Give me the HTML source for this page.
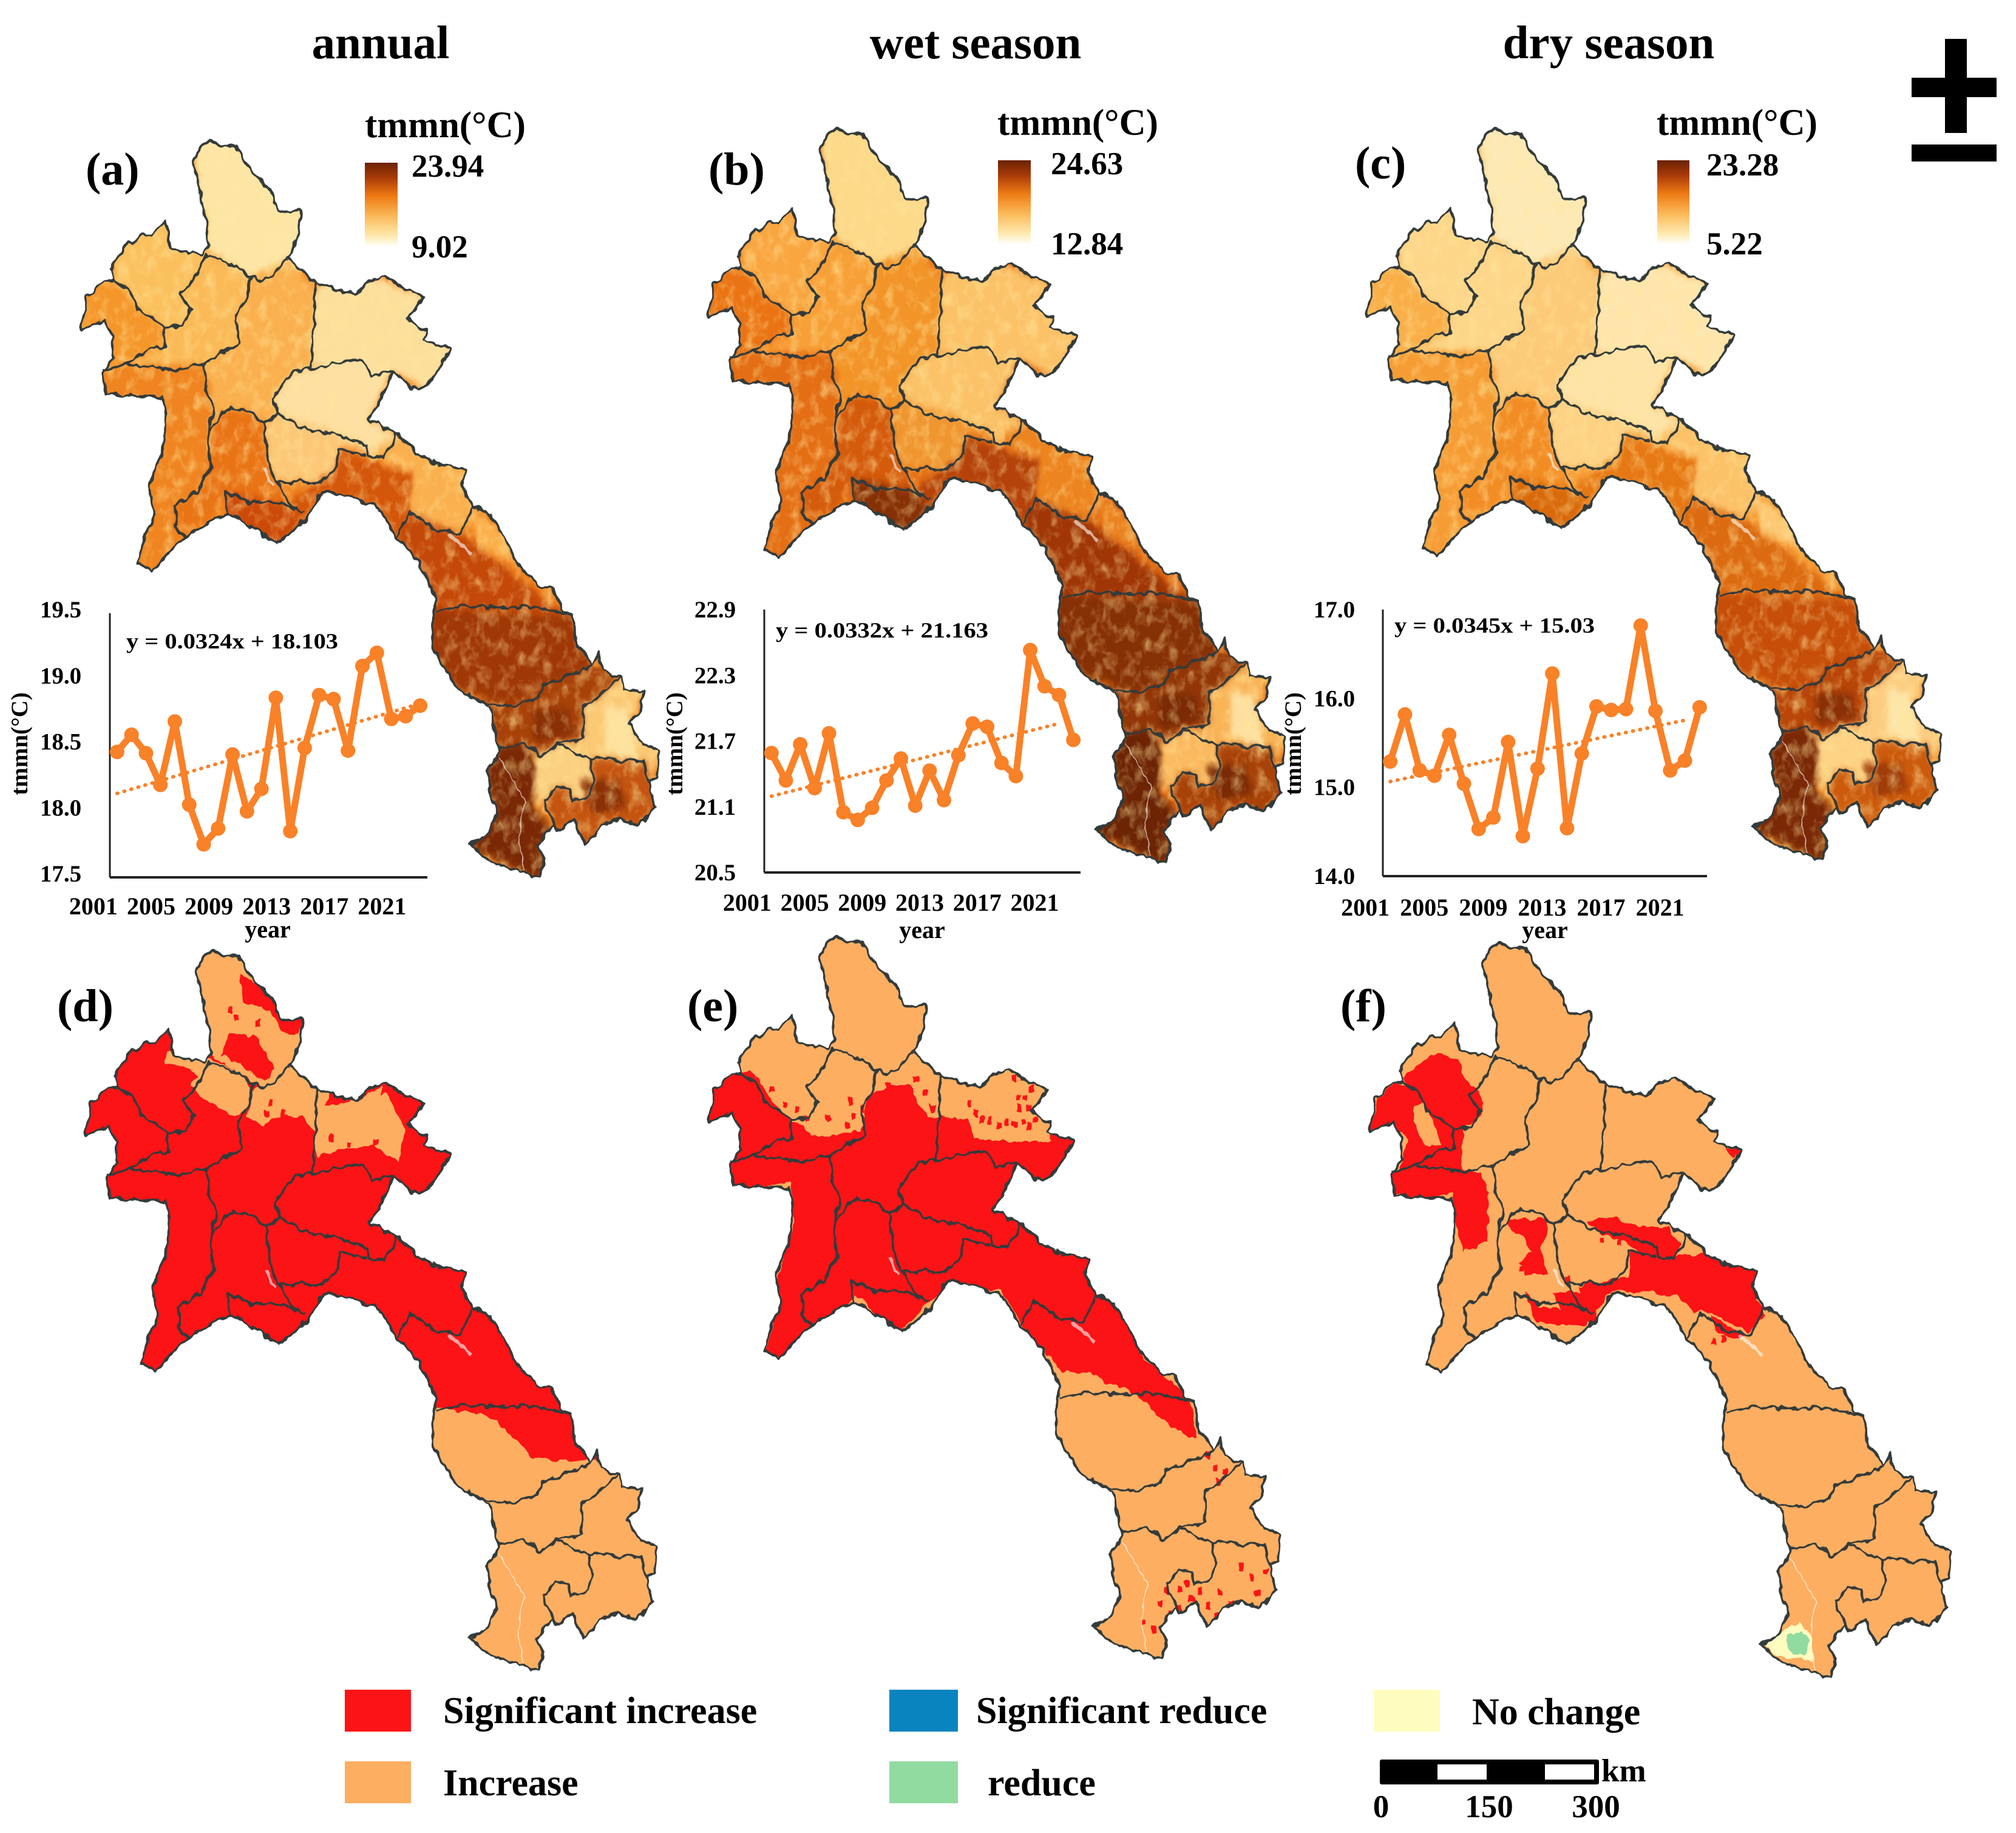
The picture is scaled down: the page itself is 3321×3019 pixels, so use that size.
<!DOCTYPE html>
<html lang="en"><head><meta charset="utf-8"><title>tmmn trends in Laos</title>
<style>
html,body{margin:0;padding:0;background:#fff}
svg{display:block}
text{font-family:"Liberation Serif",serif;font-weight:bold;fill:#000}
</style></head>
<body>
<svg id="fig" xmlns="http://www.w3.org/2000/svg" width="3321" height="3019" viewBox="0 0 3321 3019">
<defs>
<linearGradient id="cbar" x1="0" y1="0" x2="0" y2="1">
<stop offset="0" stop-color="#6b2205"/><stop offset=".18" stop-color="#a83a08"/><stop offset=".4" stop-color="#ee7a12"/><stop offset=".65" stop-color="#fbbb5c"/><stop offset=".88" stop-color="#fee9b0"/><stop offset="1" stop-color="#fffef4"/>
</linearGradient>
<filter id="heat" x="-5%" y="-5%" width="110%" height="110%" color-interpolation-filters="sRGB">
<feGaussianBlur in="SourceGraphic" stdDeviation="6" result="b"/>
<feTurbulence type="fractalNoise" baseFrequency="0.04" numOctaves="3" seed="4" result="n"/>
<feColorMatrix in="n" type="matrix" values="0 0 0 0 1  0 0 0 0 .9  0 0 0 0 .6  1.3 0 0 0 -0.6" result="w"/>
<feMerge><feMergeNode in="b"/><feMergeNode in="w"/></feMerge>
</filter>
<filter id="wobble" x="-5%" y="-5%" width="110%" height="110%" color-interpolation-filters="sRGB">
<feTurbulence type="fractalNoise" baseFrequency="0.05" numOctaves="2" seed="9" result="t"/>
<feDisplacementMap in="SourceGraphic" in2="t" scale="14" xChannelSelector="R" yChannelSelector="G"/>
</filter>
<clipPath id="laos-clip" clipPathUnits="userSpaceOnUse"><polygon id="laos-clip-shape" points=""/></clipPath>
</defs>

<text x="627" y="96" font-size="77" text-anchor="middle">annual</text>
<text x="1607" y="96" font-size="77" text-anchor="middle">wet season</text>
<text x="2650" y="96" font-size="77" text-anchor="middle">dry season</text>

<g id="maps"></g>
<g id="charts"></g>

<text x="141" y="304" font-size="76">(a)</text>
<text x="1167" y="304" font-size="76">(b)</text>
<text x="2232" y="294" font-size="76">(c)</text>
<text x="94" y="1682" font-size="76">(d)</text>
<text x="1132" y="1682" font-size="76">(e)</text>
<text x="2208" y="1682" font-size="76">(f)</text>

<g>
<text x="601" y="226" font-size="61">tmmn(°C)</text>
<rect x="601" y="268" width="54" height="137" fill="url(#cbar)"/>
<text x="678" y="291" font-size="53">23.94</text>
<text x="678" y="424" font-size="53">9.02</text>
</g>
<g>
<text x="1651" y="222" font-size="61" transform="translate(-8,0)">tmmn(°C)</text>
<rect x="1652" y="264" width="54" height="137" fill="url(#cbar)" transform="translate(-8,0)"/>
<text x="1731" y="287" font-size="53">24.63</text>
<text x="1731" y="419" font-size="53">12.84</text>
</g>
<g>
<text x="2729" y="222" font-size="61">tmmn(°C)</text>
<rect x="2744" y="264" width="53" height="137" fill="url(#cbar)" transform="translate(-14,0)"/>
<text x="2811" y="289" font-size="53">23.28</text>
<text x="2811" y="419" font-size="53">5.22</text>
</g>

<g fill="#000">
<rect x="3204" y="64" width="36" height="155"/>
<rect x="3149" y="128" width="140" height="32"/>
<rect x="3149" y="238" width="140" height="28"/>
</g>

<g>
<rect x="568" y="2783" width="109" height="69" fill="#fb1316"/>
<text x="730" y="2838" font-size="62">Significant increase</text>
<rect x="568" y="2901" width="109" height="69" fill="#fdae61"/>
<text x="730" y="2957" font-size="62">Increase</text>
<rect x="1471" y="2783" width="113" height="69" fill="#0a84bf" transform="translate(-6,0)"/>
<text x="1608" y="2838" font-size="62">Significant reduce</text>
<rect x="1471" y="2901" width="113" height="69" fill="#92dba0" transform="translate(-6,0)"/>
<text x="1627" y="2957" font-size="62">reduce</text>
<rect x="2263" y="2783" width="109" height="69" fill="#fffcbf"/>
<text x="2425" y="2840" font-size="62">No change</text>
</g>

<g>
<rect x="2273" y="2898" width="361" height="41" rx="3" fill="#000"/>
<rect x="2368" y="2906" width="81" height="25" fill="#fff"/>
<rect x="2545" y="2906" width="81" height="25" fill="#fff"/>
<text x="2638" y="2934" font-size="53">km</text>
<text x="2275" y="2993" font-size="53" text-anchor="middle">0</text>
<text x="2453" y="2993" font-size="53" text-anchor="middle">150</text>
<text x="2629" y="2993" font-size="53" text-anchor="middle">300</text>
</g>
</svg>

<script>
/* ---------- chart data ---------- */
const yearLabels = ["2001","2005","2009","2013","2017","2021"];
const annualValues = [18.45,18.58,18.44,18.2,18.68,18.05,17.75,17.87,18.43,18.0,18.17,18.86,17.85,18.48,18.88,18.85,18.46,19.1,19.2,18.7,18.72,18.8];
const wetValues = [21.59,21.34,21.67,21.27,21.77,21.05,20.98,21.09,21.34,21.54,21.11,21.43,21.16,21.57,21.86,21.83,21.5,21.38,22.53,22.2,22.12,21.71];
const dryValues = [15.29,15.82,15.19,15.13,15.59,15.04,14.53,14.66,15.51,14.45,15.21,16.28,14.54,15.38,15.91,15.87,15.88,16.82,15.86,15.19,15.3,15.9];
const annualTicks = [19.5,19.0,18.5,18.0,17.5];
const wetTicks = [22.9,22.3,21.7,21.1,20.5];
const dryTicks = [17.0,16.0,15.0,14.0];
const annualTrend = [0.0324,18.103];
const wetTrend = [0.0332,21.163];
const dryTrend = [0.0345,15.03];

const NS = "http://www.w3.org/2000/svg";
function mk(tag, attrs, parent){
  const el = document.createElementNS(NS, tag);
  for (const k in attrs) el.setAttribute(k, attrs[k]);
  parent.appendChild(el);
  return el;
}
function pts(a){ return a.map(p => p[0] + "," + p[1]).join(" "); }

/* ---------- trend charts ---------- */
const chartSpecs = [
 {id:"annual", values:annualValues, ticks:annualTicks, trend:annualTrend, dec:1, x0:181, x1:704, top:1010, bottom:1445, tickX:100, tickOff:7, titleX:32, labelOff:-39, labelY:1506, yearX:441, yearY:1544, eqX:208, eqY:1068, eqW:349, trendEnd:22, eq:"y = 0.0324x + 18.103"},
 {id:"wet", values:wetValues, ticks:wetTicks, trend:wetTrend, dec:1, x0:1259, x1:1780, top:1004, bottom:1437, tickX:1178, tickOff:13, titleX:1111, labelOff:-40, labelY:1500, yearX:1519, yearY:1545, eqX:1278, eqY:1050, eqW:350, trendEnd:21, eq:"y = 0.0332x + 21.163"},
 {id:"dry", values:dryValues, ticks:dryTicks, trend:dryTrend, dec:1, x0:2278, x1:2812, top:1004, bottom:1443, tickX:2198, tickOff:13, titleX:2130, labelOff:-41, labelY:1508, yearX:2545, yearY:1545, eqX:2297, eqY:1042, eqW:330, trendEnd:21, eq:"y = 0.0345x + 15.03"}
];
const chartsRoot = document.getElementById("charts");
const LINE = "#f98128";
chartSpecs.forEach(function(c){
  const g = mk("g", {}, chartsRoot);
  
  
  const yMax = Math.max.apply(null, c.ticks), yMin = Math.min.apply(null, c.ticks);
  const n = c.values.length, band = (c.x1 - c.x0) / n;
  const xs = i => c.x0 + (i + 0.5) * band;
  const ys = v => c.bottom - (v - yMin) / (yMax - yMin) * (c.bottom - c.top);

  const yAxis = mk("line", {x1:c.x0, x2:c.x0, y1:c.top, y2:c.bottom, stroke:"#222", "stroke-width":3}, g);
  
  
  const xAxis = mk("line", {x1:c.x0, x2:c.x1, y1:c.bottom, y2:c.bottom, stroke:"#222", "stroke-width":4}, g);
  
  

  c.ticks.forEach(function(t){
    const tl = mk("text", {x:c.tickX, y:ys(t) + c.tickOff, "font-size":39, "text-anchor":"middle"}, g);
    tl.textContent = t.toFixed(c.dec);
    
    
  });
  yearLabels.forEach(function(lbl, k){
    const tl = mk("text", {x:xs(k * 4) + c.labelOff, y:c.labelY, "font-size":40, "text-anchor":"middle"}, g);
    tl.textContent = lbl;
    
    
  });
  const yr = mk("text", {x:c.yearX, y:c.yearY, "font-size":40, "text-anchor":"middle"}, g);
  yr.textContent = "year";
  
  
  const yt = mk("text", {x:0, y:0, "font-size":39, "text-anchor":"middle", transform:"translate(" + (c.titleX + 13) + ",1225) rotate(-90)"}, g);
  yt.textContent = "tmmn(°C)";
  
  

  const eq = mk("text", {x:c.eqX, y:c.eqY, "font-size":36, textLength:c.eqW, lengthAdjust:"spacingAndGlyphs"}, g);
  eq.textContent = c.eq;
  
  

  const tr = mk("line", {x1:xs(0), y1:ys(c.trend[0] * 1 + c.trend[1]), x2:xs(c.trendEnd - 1), y2:ys(c.trend[0] * c.trendEnd + c.trend[1]), stroke:LINE, "stroke-width":6, "stroke-dasharray":"1 11", "stroke-linecap":"round"}, g);
  
  

  const line = mk("polyline", {points:pts(c.values.map((v,i) => [xs(i), ys(v)])), fill:"none", stroke:LINE, "stroke-width":11, "stroke-linejoin":"round"}, g);
  
  
  c.values.forEach(function(v,i){
    const d = mk("circle", {cx:xs(i), cy:ys(v), r:12, fill:LINE}, g);
    
    
  });
});

/* ---------- map geometry (shared panel coordinates) ---------- */
const outline = [[465,240],[485,233],[510,240],[545,240],[560,262],[590,290],[625,315],[640,345],[665,350],[695,345],[690,380],[665,425],[680,435],[715,460],[760,475],[820,485],[850,465],[885,452],[920,470],[975,490],[955,510],[940,525],[985,545],[975,560],[1040,575],[1015,605],[985,635],[950,640],[905,610],[895,630],[880,655],[850,690],[915,715],[960,745],[1010,765],[1075,772],[1065,800],[1090,835],[1130,845],[1165,890],[1190,925],[1240,965],[1275,970],[1295,1005],[1320,1015],[1330,1060],[1365,1095],[1380,1075],[1390,1105],[1430,1115],[1440,1135],[1485,1140],[1475,1170],[1450,1190],[1480,1225],[1520,1235],[1515,1280],[1495,1290],[1510,1330],[1470,1360],[1430,1350],[1390,1360],[1350,1390],[1320,1350],[1285,1370],[1275,1355],[1240,1395],[1255,1415],[1245,1445],[1200,1435],[1130,1420],[1085,1390],[1120,1375],[1145,1340],[1130,1300],[1125,1270],[1150,1235],[1130,1165],[1105,1155],[1050,1130],[1020,1095],[995,1060],[1000,1010],[1005,985],[965,925],[915,885],[870,835],[800,815],[745,810],[700,860],[640,895],[610,880],[525,845],[480,860],[425,885],[350,940],[320,925],[335,880],[355,850],[345,800],[375,740],[385,690],[375,655],[305,650],[245,650],[235,615],[260,590],[260,555],[240,525],[185,545],[200,490],[240,465],[265,460],[255,445],[295,400],[350,385],[380,365],[395,410],[470,420],[480,405],[475,360],[445,265]];
const provinceLines = [
 [[265,460],[300,480],[320,510],[380,540],[420,535],[440,510],[415,485],[450,455],[480,420]],
 [[480,420],[530,435],[580,455],[570,490],[545,520],[550,565],[490,590],[470,600],[400,610],[290,600],[235,610]],
 [[380,540],[380,570],[340,575],[290,600]],
 [[580,455],[605,465],[665,428]],
 [[470,600],[475,640],[495,670],[480,710],[485,770],[455,810],[405,830],[405,870],[430,885]],
 [[480,710],[530,670],[585,680],[610,700],[640,680],[630,655],[680,610],[745,605],[820,590],[845,600],[855,620],[905,610]],
 [[727,466],[725,540],[715,607]],
 [[640,680],[700,705],[780,715],[845,735],[850,750],[885,755],[915,715]],
 [[610,700],[620,770],[640,795],[660,820],[680,840]],
 [[640,795],[740,795],[775,770],[780,740],[845,750]],
 [[525,845],[520,810],[570,825],[660,830],[700,845]],
 [[915,885],[945,845],[1000,870],[1060,880],[1090,835]],
 [[1005,1010],[1060,998],[1150,1000],[1240,1000],[1320,1015]],
 [[1105,1155],[1170,1165],[1240,1150],[1250,1130],[1340,1105],[1365,1095]],
 [[1430,1115],[1345,1165],[1345,1215],[1285,1225],[1360,1250],[1485,1255],[1495,1290]],
 [[1150,1232],[1210,1225],[1250,1245],[1285,1225]],
 [[1285,1370],[1255,1320],[1285,1295],[1315,1300],[1320,1320],[1360,1310],[1370,1280],[1360,1250]]
];
const heatZones = [
 [[445,225],[700,225],[700,440],[600,465],[470,410]],
 [[255,370],[480,350],[480,420],[440,510],[420,535],[380,540],[320,510],[265,460]],
 [[175,460],[265,460],[320,510],[380,545],[380,570],[290,600],[235,610],[175,550]],
 [[480,420],[580,455],[545,520],[550,565],[470,600],[290,600],[380,570],[380,540],[420,535],[440,510],[415,485]],
 [[580,455],[665,428],[730,480],[715,600],[630,655],[640,680],[610,700],[585,680],[530,670],[480,710],[495,670],[470,600],[550,565],[545,520]],
 [[730,470],[850,450],[985,490],[1050,575],[985,645],[905,610],[845,600],[715,600]],
 [[630,655],[680,610],[820,590],[905,610],[850,690],[915,715],[885,755],[850,750],[780,715],[640,680]],
 [[230,610],[400,610],[470,600],[495,670],[480,710],[485,770],[455,810],[405,830],[405,870],[430,885],[350,950],[310,930],[375,740],[385,690],[375,660],[235,660]],
 [[480,710],[530,670],[585,680],[610,700],[620,770],[660,830],[520,810],[480,860],[405,870],[405,830],[455,810],[485,770]],
 [[520,810],[660,830],[710,860],[640,905],[525,850]],
 [[610,700],[640,680],[780,715],[845,735],[780,740],[775,770],[740,795],[640,795],[620,770]],
 [[660,830],[775,770],[780,740],[950,780],[945,845],[915,885],[870,835],[745,810],[700,860]],
 [[850,750],[915,715],[1075,765],[1090,835],[1060,880],[945,845],[950,780]],
 [[915,885],[945,845],[1060,880],[1100,900],[1300,1010],[1005,1005]],
 [[1085,835],[1165,880],[1195,930],[1100,900]],
 [[995,1005],[1325,1012],[1365,1095],[1250,1130],[1170,1165],[1050,1135],[985,1060]],
 [[1105,1155],[1170,1165],[1250,1130],[1365,1095],[1430,1115],[1345,1165],[1345,1215],[1285,1225],[1250,1245],[1210,1225],[1150,1230]],
 [[1430,1115],[1490,1135],[1450,1190],[1525,1235],[1495,1290],[1360,1250],[1285,1225],[1345,1215],[1345,1165]],
 [[1150,1230],[1210,1225],[1235,1250],[1230,1330],[1285,1375],[1240,1395],[1255,1420],[1245,1450],[1080,1395],[1145,1340],[1120,1270]],
 [[1230,1245],[1285,1225],[1360,1250],[1370,1280],[1360,1310],[1320,1320],[1315,1300],[1285,1295],[1255,1320],[1235,1330]],
 [[1255,1320],[1285,1295],[1315,1300],[1320,1320],[1360,1310],[1370,1280],[1360,1250],[1490,1255],[1515,1330],[1470,1365],[1390,1365],[1350,1395],[1320,1350],[1285,1370]],
 [[1335,1285],[1425,1285],[1445,1330],[1370,1340]],
 [[1225,1170],[1310,1165],[1325,1210],[1230,1222]],
 [[1395,1160],[1450,1170],[1475,1262],[1395,1232]]
];
const whiteMarks = [
 [[1150,1245],[1185,1290],[1210,1320],[1195,1380],[1210,1435]],
 [[605,770],[630,800]],
 [[1035,880],[1090,915]]
];
const panelA = ["#fde6a6","#fbc05e","#f5962a","#fbba58","#fab04e","#fddf9c","#fde0a2","#ef8420","#e97416","#cc4a08","#fcc878","#d4560a","#fab04e","#c44808","#fbb04c","#a03806","#a84208","#fbc874","#7a2805","#fbd080","#c45410","#8a3006","#8a3006","#fde2a0"];
const panelB = ["#fdd98a","#f9a540","#ea7414","#f8a038","#f29428","#fbc268","#fbc268","#e46e14","#d45a0c","#863005","#f09630","#b4420a","#ec8420","#a03606","#ea8422","#863005","#923608","#f9b458","#6c2405","#fbb95f","#a84208","#7a2a05","#7a2a05","#fde0a0"];
const panelC = ["#fde9b6","#fdd68a","#f9ae48","#fdd68a","#fcca78","#fee6ae","#fee4a8","#f69c34","#f28c24","#d96a0c","#fdd284","#e67814","#fcc268","#dc6a10","#fcc874","#c64e08","#b84608","#fccc80","#7a2805","#fdd284","#cc5a0c","#a03c08","#8a3006","#fde6a8"];

const RED = "#fb1316", ORANGE = "#fdae61";
/* categorical layers, traced in each reference crop's own frame */
const dRed = [
 {f:RED, p:[[150,0],[1568,0],[1568,905],[1370,905],[1320,910],[1230,905],[1200,880],[1130,830],[990,815],[150,800]]},
 {f:ORANGE, p:[[440,0],[720,0],[720,240],[600,245],[480,190]]},
 {f:RED, p:[[555,50],[600,70],[640,100],[700,125],[690,155],[650,150],[620,110],[560,100]]},
 {f:RED, p:[[530,150],[590,160],[635,215],[610,240],[560,210],[510,190]]},
 {f:ORANGE, p:[[490,200],[560,225],[590,260],[570,290],[540,300],[470,270],[440,245]]},
 {f:ORANGE, p:[[590,250],[680,210],[760,260],[730,330],[700,300],[640,300],[600,315],[570,300]]},
 {f:ORANGE, p:[[745,280],[830,270],[880,245],[935,320],[920,380],[860,350],[730,370],[725,340]]},
 {f:ORANGE, p:[[385,185],[420,195],[490,200],[465,240],[440,215],[380,205]]}
];
const eRed = [
 {f:RED, p:[[60,390],[100,300],[170,290],[210,330],[240,370],[270,395],[300,400],[320,425],[440,415],[460,340],[510,320],[560,320],[600,385],[640,385],[700,390],[720,430],[820,435],[905,435],[900,410],[975,435],[900,530],[820,500],[770,560],[830,600],[1010,680],[1010,740],[1060,760],[1130,880],[1240,960],[1260,1040],[1240,1040],[1180,1010],[1120,960],[1090,945],[1040,930],[1000,910],[930,905],[850,830],[780,740],[650,730],[530,830],[430,750],[330,820],[250,880],[210,870],[230,800],[240,710],[280,600],[270,520],[130,530],[120,480]]}
];
const fRed = [
 {f:RED, p:[[80,400],[100,335],[140,305],[170,305],[160,290],[205,255],[240,240],[285,255],[310,300],[345,330],[340,370],[300,395],[295,480],[345,490],[360,530],[355,630],[300,650],[280,570],[275,530],[200,540],[140,530],[130,485],[150,480],[170,420],[130,385]]},
 {f:ORANGE, p:[[185,350],[205,345],[235,395],[250,430],[210,430],[180,380]]},
 {f:RED, p:[[400,585],[500,580],[495,610],[480,640],[500,695],[445,695],[430,670],[460,650],[445,620],[415,605]]},
 {f:RED, p:[[510,730],[580,730],[610,760],[610,800],[560,790],[530,770]]},
 {f:RED, p:[[440,730],[480,760],[600,780],[590,800],[520,800],[470,790]]},
 {f:RED, p:[[590,585],[640,575],[700,595],[780,600],[810,630],[800,660],[730,660],[680,630],[620,610]]},
 {f:RED, p:[[570,720],[690,700],[690,650],[800,660],[870,650],[990,690],[990,750],[1010,775],[970,815],[880,775],[840,770],[800,740],[770,740],[730,730],[650,730],[610,770]]},
 {f:RED, p:[[880,780],[960,820],[940,830],[890,810]]},
 {f:RED, p:[[915,435],[955,440],[935,460]]},
 {f:"#fffcbf", p:[[1000,1448],[1090,1410],[1120,1440],[1120,1490],[1075,1480],[1040,1480]]},
 {f:"#92dba0", p:[[1060,1440],[1090,1425],[1115,1450],[1100,1475],[1065,1470]]}
];
const dPixels = [[540,120],[525,105],[590,130],[520,180],[610,290],[620,270],[700,320],[760,330],[800,345],[860,340],[880,250],[470,280],[500,290],[650,290]];
const ePixels = [[820,340],[835,340],[845,360],[820,360],[700,350],[715,370],[730,385],[750,385],[770,395],[790,390],[810,395],[830,390],[845,400],[860,385],[810,300],[830,295],[850,320],[410,345],[440,360],[420,380],[400,395],[355,380],[220,320],[250,350],[280,365],[305,380],[570,300],[590,330],[610,360],[500,315],[1210,1345],[1230,1335],[1240,1365],[1260,1350],[1280,1380],[1310,1350],[1360,1300],[1385,1320],[1420,1310],[1400,1355],[1180,1350],[1165,1375],[1190,1395],[1210,1385],[1125,1415],[1150,1430],[1300,1100],[1320,1105],[1305,1125],[1280,1070],[1335,1380],[1300,1400]];
const fPixels = [[430,680],[520,745],[330,340],[345,520],[300,510],[320,500],[840,690],[820,720],[830,750],[620,620],[660,625],[905,820],[885,825],[470,650],[540,700]];

document.getElementById("laos-clip-shape").setAttribute("points", pts(outline));

const mapsRoot = document.getElementById("maps");
const panels = [
 {id:"a", x:132, y:233, w:954, h:1212, colors:panelA},
 {id:"b", x:1165, y:213, w:952, h:1208, colors:panelB},
 {id:"c", x:2250, y:213, w:948, h:1203, colors:panelC},
 {id:"d", x:139, y:1567, w:943, h:1184, layers:dRed, pixels:dPixels, src:[195,8,1320,1272], px:11},
 {id:"e", x:1166, y:1544, w:943, h:1188, layers:eRed, pixels:ePixels, src:[68,17,1394,1478], px:11},
 {id:"f", x:2255, y:1554, w:959, h:1209, layers:fRed, pixels:fPixels, src:[78,17,1367,1505], px:11}
];
panels.forEach(function(P){
  const sx = P.w / 1335, sy = P.h / 1212;
  const g = mk("g", {transform:"translate(" + (P.x - 185 * sx) + "," + (P.y - 233 * sy) + ") scale(" + sx + "," + sy + ")", filter:"url(#wobble)"}, mapsRoot);
  
  
  const clip = mk("g", {"clip-path":"url(#laos-clip)"}, g);
  if (P.colors) {
    const bg = mk("g", {filter:"url(#heat)"}, clip);
    mk("rect", {x:150, y:200, width:1400, height:1280, fill:P.colors[7]}, bg);
    heatZones.forEach(function(z, i){
      mk("polygon", {points:pts(z), fill:P.colors[i]}, bg);
    });
  } else {
    mk("polygon", {points:pts(outline), fill:ORANGE}, clip);
    const conv = q => [185 + (q[0] - P.src[0]) / P.src[2] * 1335, 233 + (q[1] - P.src[1]) / P.src[3] * 1212];
    P.layers.forEach(function(L){
      mk("polygon", {points:pts(L.p.map(conv)), fill:L.f}, clip);
    });
    P.pixels.forEach(function(q){
      const c = conv(q);
      mk("rect", {x:c[0], y:c[1], width:P.px, height:P.px, fill:RED}, clip);
    });
  }
  whiteMarks.forEach(function(m, i){
    mk("polyline", {points:pts(m), fill:"none", stroke:"#fff", "stroke-width":i === 0 ? 2 : 5, "stroke-opacity":.6, "vector-effect":"non-scaling-stroke"}, clip);
  });
  const prov = mk("g", {fill:"none", stroke:"#333b3b", "stroke-width":4, "stroke-linejoin":"round"}, g);
  
  
  provinceLines.forEach(function(l){
    mk("polyline", {points:pts(l), "vector-effect":"non-scaling-stroke"}, prov);
  });
  const ol = mk("polygon", {points:pts(outline), fill:"none", stroke:"#333b3b", "stroke-width":4, "stroke-linejoin":"round", "vector-effect":"non-scaling-stroke"}, g);
  
  
});
</script>
</body></html>
